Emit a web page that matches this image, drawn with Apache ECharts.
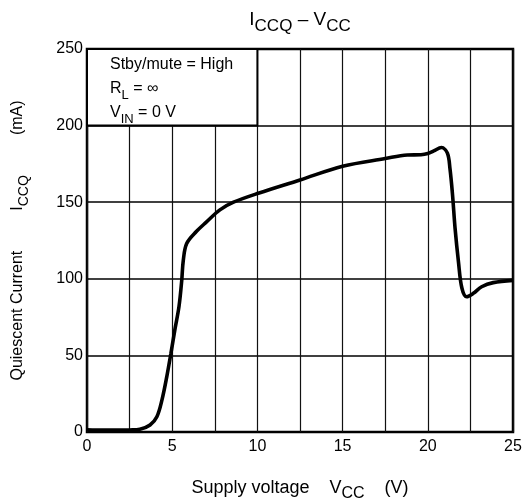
<!DOCTYPE html>
<html>
<head>
<meta charset="utf-8">
<script src="https://cdn.jsdelivr.net/npm/echarts@6/dist/echarts.min.js"></script>
<style>
  html, body { margin: 0; padding: 0; background: #fff; }
  #chart { width: 525px; height: 502px; }
</style>
</head>
<body>
<div id="chart"></div>
<script>
// Supply voltage (V) and quiescent current (mA) along the measured curve
const vcc   = [0, 1, 2, 2.5, 3.1, 3.7, 4.1, 4.4, 4.68, 4.92, 5.16, 5.4, 5.56, 5.65, 5.85, 6.43, 7.0, 7.8, 8.6, 10.1, 12.5, 15.0, 17.5, 18.8, 19.6, 20.0, 20.35, 20.8, 21.15, 21.3, 21.45, 21.6, 21.8, 22.0, 22.28, 22.67, 23.16, 23.84, 25];
const iccq  = [1.5, 1.2, 1.2, 1.3, 1.8, 4.6, 10, 21, 36, 51, 67, 82, 99, 112, 123, 131, 137, 145, 150, 156, 164.5, 173.5, 178.5, 180.8, 181, 181.8, 183.5, 185.7, 182, 172, 155, 133, 111, 94, 88.3, 90.5, 94.8, 97.5, 99];

// Axis ranges and tick steps
const xRange = [0, 25];
const xStep = 5;
const yRange = [0, 250];
const yStep = 50;

// Test-condition box (value-space corners) and its text lines
const conditionBox = [[0, 250], [10, 200]];
const conditionText = [
  '{t|Stby/mute = High}',
  '{t|R}{s|L}{t| = ∞}',
  '{t|V}{s|IN}{t| = 0 V}'
];

const FONT = '"Liberation Sans", Arial, Helvetica, sans-serif';
const GAP = '         ';

const chart = echarts.init(document.getElementById('chart'), null, { renderer: 'canvas' });

chart.setOption({
  animation: false,
  backgroundColor: '#fff',
  title: {
    text: '{m|I}{s|CCQ}{m| – V}{s|CC}',
    left: 300,
    top: 10,
    padding: 0,
    textAlign: 'center',
    textStyle: {
      fontFamily: FONT,
      fontWeight: 'normal',
      rich: {
        m: { fontFamily: FONT, fontWeight: 'normal', fontSize: 19, lineHeight: 24, verticalAlign: 'top', color: '#000' },
        s: { fontFamily: FONT, fontWeight: 'normal', fontSize: 17, lineHeight: 15, padding: [8, 0, 0, 0], verticalAlign: 'top', color: '#000' }
      }
    }
  },
  grid: {
    left: 87,
    right: 12,
    top: 49,
    bottom: 70,
    containLabel: false,
    outerBoundsMode: 'none',
    show: true,
    borderColor: '#000',
    borderWidth: 2.5,
    backgroundColor: 'transparent'
  },
  xAxis: {
    type: 'value',
    min: xRange[0],
    max: xRange[1],
    interval: xStep,
    axisLine: { show: false },
    axisTick: { show: false },
    minorTick: { show: false, splitNumber: 2 },
    axisLabel: { margin: 7, color: '#000', fontFamily: FONT, fontSize: 16 },
    splitLine: { show: true, lineStyle: { color: '#111', width: 1.2 } },
    minorSplitLine: { show: true, lineStyle: { color: '#111', width: 1.2 } },
    name: '{m|Supply voltage    V}{s|CC}{m|    (V)}',
    nameLocation: 'middle',
    nameGap: 47,
    nameTextStyle: {
      fontFamily: FONT,
      rich: {
        m: { fontFamily: FONT, fontSize: 18, lineHeight: 22, verticalAlign: 'top', color: '#000' },
        s: { fontFamily: FONT, fontSize: 16, lineHeight: 14, padding: [7, 0, 0, 0], verticalAlign: 'top', color: '#000' }
      }
    }
  },
  yAxis: {
    type: 'value',
    min: yRange[0],
    max: yRange[1],
    interval: yStep,
    axisLine: { show: false },
    axisTick: { show: false },
    axisLabel: { margin: 4, color: '#000', fontFamily: FONT, fontSize: 16 },
    splitLine: { show: true, lineStyle: { color: '#000', width: 1.6 } },
    name: '{m|Quiescent Current' + GAP + 'I}{s|CCQ}{m|' + GAP + '(mA)}',
    nameLocation: 'middle',
    nameGap: 55,
    nameTextStyle: {
      fontFamily: FONT,
      rich: {
        m: { fontFamily: FONT, fontSize: 16, lineHeight: 22, verticalAlign: 'top', color: '#000' },
        s: { fontFamily: FONT, fontSize: 14, lineHeight: 14, padding: [7, 0, 0, 0], verticalAlign: 'top', color: '#000' }
      }
    }
  },
  series: [{
    type: 'line',
    data: vcc.map((v, i) => [v, iccq[i]]),
    showSymbol: false,
    smooth: 0.35,
    lineStyle: { color: '#000', width: 3.6 },
    z: 5,
    markArea: {
      silent: true,
      itemStyle: { color: '#fff', borderColor: '#000', borderWidth: 2, opacity: 1 },
      label: {
        show: true,
        position: [24, 9],
        formatter: conditionText.join('\n'),
        fontFamily: FONT,
        rich: {
          t: { fontFamily: FONT, fontSize: 16, lineHeight: 24, verticalAlign: 'top', color: '#000' },
          s: { fontFamily: FONT, fontSize: 13, lineHeight: 12, padding: [8, 0, 0, 0], verticalAlign: 'top', color: '#000' }
        }
      },
      data: [[{ coord: conditionBox[0] }, { coord: conditionBox[1] }]]
    }
  }]
});
</script>
</body>
</html>
